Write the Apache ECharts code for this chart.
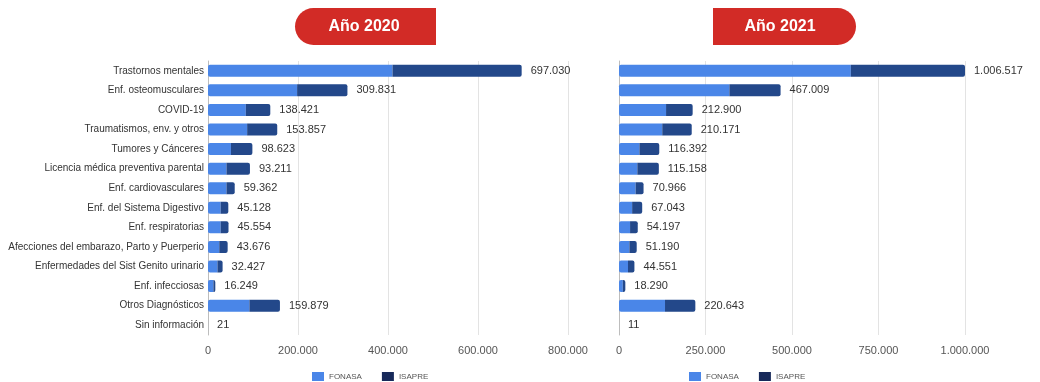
<!DOCTYPE html>
<html>
<head>
<meta charset="utf-8">
<script src="https://cdn.jsdelivr.net/npm/echarts@6/dist/echarts.min.js"></script>
<style>
html,body{margin:0;padding:0;background:#fff;}
#chart{width:1040px;height:382px;}
</style>
</head>
<body>
<div id="chart"></div>
<script>
const categories = [
  'Trastornos mentales','Enf. osteomusculares','COVID-19','Traumatismos, env. y otros',
  'Tumores y Cánceres','Licencia médica preventiva parental','Enf. cardiovasculares',
  'Enf. del Sistema Digestivo','Enf. respiratorias','Afecciones del embarazo, Parto y Puerperio',
  'Enfermedades del Sist Genito urinario','Enf. infecciosas','Otros Diagnósticos','Sin información'
];
const fonasa2020 = [410000,198000,84000,87000,51000,41000,41000,28000,28000,25000,21000,12000,92000,15];
const isapre2020 = [287030,111831,54421,66857,47623,52211,18362,17128,17554,18676,11427,4249,67879,6];
const fonasa2021 = [670000,319000,136000,125000,59000,53000,48000,38000,32000,30000,26000,11000,133000,8];
const isapre2021 = [336517,148009,76900,85171,57392,62158,22966,29043,22197,21190,18551,7290,87643,3];
const ticks2020 = [0,200000,400000,600000,800000];
const ticks2021 = [0,250000,500000,750000,1000000];
const titles = ['Año 2020','Año 2021'];

function fmt(v){ return String(Math.round(v)).replace(/\B(?=(\d{3})+(?!\d))/g,'.'); }

const FON = '#4a86e8', ISA = '#23488a';
const grids = [
  {left:208, right:472, top:61, bottom:47},
  {left:619, right:75, top:61, bottom:47}
];
function xAx(idx, ticks){
  return {
    type:'value', gridIndex:idx, min:ticks[0], max:ticks[ticks.length-1],
    interval:ticks[1]-ticks[0],
    axisLine:{show:false}, axisTick:{show:false},
    splitLine:{lineStyle:{color:'#e3e3e3', width:1}},
    axisLabel:{color:'#555', fontSize:11, fontFamily:'Liberation Sans, Arial', margin:10, formatter:fmt}
  };
}
function yAx(idx, showLabels){
  return {
    type:'category', gridIndex:idx, data:categories, inverse:true,
    axisLine:{show:true, lineStyle:{color:'#bdbdbd'}}, axisTick:{show:false},
    axisLabel:{show:showLabels, color:'#333', fontSize:10, fontFamily:'Liberation Sans, Arial', margin:4}
  };
}
function barSeries(name, color, data, idx, totalsF, totalsI, last){
  const s = {
    name, type:'bar', stack:'s'+idx, xAxisIndex:idx, yAxisIndex:idx, data,
    barWidth:12, itemStyle:{color},
    emphasis:{disabled:true}
  };
  if(last){
    s.itemStyle.borderRadius=[0,2,2,0];
    s.label = {
      show:true, position:'right', distance:9, color:'#333', fontSize:11,
      fontFamily:'Liberation Sans, Arial',
      formatter: p => fmt(totalsF[p.dataIndex] + totalsI[p.dataIndex])
    };
  } else {
    s.itemStyle.borderRadius=[2,0,0,2];
  }
  return s;
}
const legendBase = {
  data:[{name:'FONASA'}, {name:'ISAPRE', itemStyle:{color:'#17295a'}}],
  icon:'rect', itemWidth:12, itemHeight:9, itemGap:20,
  padding:0, textStyle:{fontSize:8, color:'#555', fontFamily:'Liberation Sans, Arial'}, selectedMode:false};

const chart = echarts.init(document.getElementById('chart'), null, {renderer:'canvas'});
chart.setOption({
  animation:false,
  backgroundColor:'#fff',
  grid:grids,
  xAxis:[xAx(0,ticks2020), xAx(1,ticks2021)],
  yAxis:[yAx(0,true), yAx(1,false)],
  legend:[
    Object.assign({left:312, top:372}, legendBase),
    Object.assign({left:689, top:372}, legendBase)
  ],
  series:[
    barSeries('FONASA', FON, fonasa2020, 0, fonasa2020, isapre2020, false),
    barSeries('ISAPRE', ISA, isapre2020, 0, fonasa2020, isapre2020, true),
    barSeries('FONASA', FON, fonasa2021, 1, fonasa2021, isapre2021, false),
    barSeries('ISAPRE', ISA, isapre2021, 1, fonasa2021, isapre2021, true)
  ],
  graphic:[
    {type:'rect', left:295, top:8, shape:{width:141, height:37, r:[18.5,0,0,18.5]}, style:{fill:'#d22b26'}},
    {type:'text', x:364, y:27, style:{text:titles[0], fill:'#fff', font:'bold 16px "Liberation Sans", Arial', align:'center', verticalAlign:'middle'}},
    {type:'rect', left:713, top:8, shape:{width:143, height:37, r:[0,18.5,18.5,0]}, style:{fill:'#d22b26'}},
    {type:'text', x:780, y:27, style:{text:titles[1], fill:'#fff', font:'bold 16px "Liberation Sans", Arial', align:'center', verticalAlign:'middle'}}
  ]
});
</script>
</body>
</html>
